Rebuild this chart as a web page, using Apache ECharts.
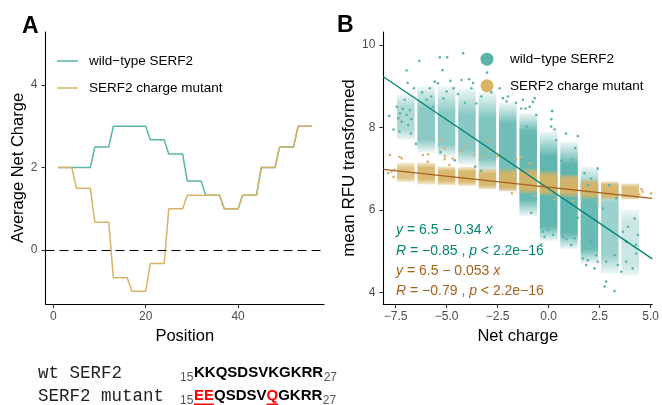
<!DOCTYPE html>
<html><head><meta charset="utf-8">
<script src="https://cdn.jsdelivr.net/npm/echarts@6/dist/echarts.min.js"></script>
<style>html,body{margin:0;padding:0;background:#fff}#c{width:662px;height:405px}</style>
</head><body><div id="c"></div><script>
// ---------- Panel A data ----------
const positions = [1,2,3,4,5,6,7,8,9,10,11,12,13,14,15,16,17,18,19,20,21,22,23,24,25,26,27,28,29,30,31,32,33,34,35,36,37,38,39,40,41,42,43,44,45,46,47,48,49,50,51,52,53,54,55,56];
const wtNetCharge = [2,2,2,2,2,2,2,2, 2.5,2.5,2.5,2.5, 3,3,3,3,3,3,3,3, 2.67,2.67,2.67,2.67, 2.33,2.33,2.33,2.33, 1.67,1.67,1.67,1.67, 1.33,1.33,1.33,1.33, 1,1,1,1, 1.33,1.33,1.33,1.33, 2,2,2,2, 2.5,2.5,2.5,2.5, 3,3,3,3];
const mutNetCharge = [2,2,2,2, 1.5,1.5,1.5,1.5, 0.67,0.67,0.67,0.67, -0.67,-0.67,-0.67,-0.67, -1,-1,-1,-1, -0.33,-0.33,-0.33,-0.33, 1,1,1,1, 1.33,1.33,1.33,1.33,1.33,1.33,1.33,1.33, 1,1,1,1, 1.33,1.33,1.33,1.33, 2,2,2,2, 2.5,2.5,2.5,2.5, 3,3,3,3];
const ticksAx = [0,20,40];
const ticksAy = [0,2,4];

// ---------- Panel B data ----------
const ticksBx = [-7.5,-5,-2.5,0,2.5,5];
const ticksBy = [4,6,8,10];
const wtCharges   = [-7,-6,-5,-4,-3,-2,-1,0,1,2,3,4];
const wtOuterLo   = [7.7,7.4,7.3,7.1,6.9,6.45,5.85,5.25,5.05,4.7,4.45,4.4];
const wtOuterHi   = [8.8,9.0,9.0,8.95,8.85,8.6,8.35,7.9,7.65,7.05,6.65,6.0];
const wtCoreLo    = [7.95,7.7,7.6,7.45,7.25,6.7,6.25,5.6,5.45,5.05,4.9,4.7];
const wtCoreHi    = [8.5,8.45,8.35,8.3,8.2,8.1,7.9,7.3,7.1,6.45,6.15,5.7];
const wtDensity   = [0.5,0.7,0.7,0.72,0.78,0.86,0.93,0.97,0.97,0.9,0.6,0.32];
const mutCharges  = [-7,-6,-5,-4,-3,-2,-1,0,1,2,3,4];
const mutOuterLo  = [6.68,6.62,6.6,6.58,6.5,6.45,6.4,6.35,6.3,6.27,6.25,6.25];
const mutOuterHi  = [7.14,7.14,7.05,7.04,7.0,7.0,7.0,6.94,6.85,6.74,6.69,6.64];
const mutCoreLo   = [6.78,6.75,6.7,6.68,6.6,6.55,6.5,6.45,6.42,6.37,6.33,6.32];
const mutCoreHi   = [7.0,7.02,6.95,6.93,6.88,6.88,6.88,6.82,6.75,6.63,6.6,6.55];
const mutDensity  = [0.8,0.92,0.92,0.94,0.94,0.94,0.94,0.94,0.94,0.94,0.94,0.85];
const wtPoints = [[-7.81,8.28],[-6.96,9.38],[-6.91,9.08],[-6.34,9.61],[-6.6,8.95],[-5.33,9.70],[-4.97,9.70],[-5.2,9.39],[-4.19,9.80],[-4.81,9.13],[-4.27,9.15],[-3.9,9.17],[-3.7,9.08],[-5.58,9.11],[-5.82,8.95],[-3.02,9.33],[-2.24,8.71],[-1.99,8.75],[-2.06,8.63],[-0.93,8.5],[-0.77,8.62],[-1.34,8.46],[0.18,8.4],[0.13,8.02],[-1.09,8.02],[-3.29,8.75],[-3.54,8.58],[-3.78,8.95],[-5.0,8.87],[-4.44,8.81],[-5.98,8.67],[-5.66,8.5],[-5.42,9.07],[-7.45,8.5],[-7.29,8.34],[-7.05,8.67],[-6.8,8.42],[-7.2,8.14],[-6.88,8.06],[-7.37,8.22],[-6.72,8.2],
 [-1.26,8.67],[-0.68,8.71],[-1.13,8.46],[0.16,8.4],[0.13,8.2],[1.43,7.79],[0.37,7.69],[1.11,7.21],[0.62,7.19],[1.03,7.06],
 [-0.85,5.93],[-0.28,5.47],[-0.03,5.51],[-0.2,5.35],[0.21,5.39],[-0.36,5.16],[0.87,5.29],[1.11,5.15],[0.7,5.35],[1.27,5.31],[1.68,4.82],[1.92,4.78],[1.84,4.66],[2.33,4.9],[2.41,4.74],[2.25,4.58],[2.09,5.23],[2.82,4.74],[3.23,4.9],[3.39,4.66],[3.8,4.74],[4.12,4.58],[4.29,4.94],[4.21,5.79],[3.88,5.59],[3.64,5.47],[4.37,5.39],[3.8,5.23],[4.29,5.15],[2.82,4.26],[3.23,4.03],[2.74,4.14],[3.56,4.5],[1.43,5.81],
 [1.76,6.89],[2.09,6.76],[2.41,7.0],[1.92,6.6],[2.98,6.6],[3.31,6.28],[2.66,6.03],
 [-7.3,7.9],[-6.75,7.85],[-7.15,8.45],[-6.95,8.3],[-6.2,8.85],[-5.75,8.75],[-5.15,8.7],[-4.65,8.95],[-4.1,8.6],[-2.8,8.85],[-2.4,8.95],[-1.6,8.6],[-0.6,8.3],[0.3,7.95],[0.85,7.85],[1.3,7.5],[-7.6,7.95],[-6.5,7.6],[-5.3,7.4],[-4.6,7.2],[-3.6,7.05],[-3.3,6.95]];
const mutPoints = [[-7.31,7.29],[-7.2,7.25],[-6.16,7.33],[-5.92,7.17],[-5.22,7.71],[-5.1,7.49],[-5.08,7.3],[-4.21,7.41],[-4.05,7.53],[-4.7,7.25],[-3.64,7.33],[-3.15,7.29],[-2.9,7.45],[-2.5,7.3],[-2.98,7.69],[-4.86,7.09],[-7.78,7.33],[-5.9,7.35],[-5.09,7.23],[-1.58,7.23],[-1.34,7.29],[-0.93,7.13],[-7.86,6.89],[-7.7,6.93],[-7.6,6.8],[-7.55,6.97],[5.02,6.4],[4.61,6.44],[4.45,6.38],[4.55,6.5],[-1.8,6.4],[-0.7,6.35],[0.3,6.25],[1.2,6.22],[2.4,6.2]];
const wtFitLine  = [[-8.10,9.23],[5.08,4.81]];
const mutFitLine = [[-8.10,6.98],[5.08,6.28]];
const fitTexts = [
  {t:'{i|y} = 6.5 − 0.34 {i|x}', c:'wt'},
  {t:'{i|R} = −0.85 , {i|p} < 2.2e−16', c:'wt'},
  {t:'{i|y} = 6.5 − 0.053 {i|x}', c:'mut'},
  {t:'{i|R} = −0.79 , {i|p} < 2.2e−16', c:'mut'}
];
const wtName = 'wild−type SERF2';
const mutName = 'SERF2 charge mutant';

// ---------- styles ----------
const FONT = 'Liberation Sans, Arial, Helvetica, sans-serif';
const MONO = 'Liberation Mono, Courier New, monospace';
const TEAL = '#5AB4AC', GOLD = '#D8B365', TEAL_D = '#018571', BROWN = '#A6611A';
const TEAL_RGB = '90,180,172', GOLD_RGB = '216,179,101';
const HALF = 0.43;

function axisBase(extra) {
  return Object.assign({
    type:'value',
    axisLine:{show:true, onZero:false, lineStyle:{color:'#000', width:1.1}},
    splitLine:{show:false},
    nameLocation:'middle',
    nameTextStyle:{color:'#000', fontSize:16.5, fontFamily:FONT}
  }, extra);
}
const tick = vals => ({show:true, length:4, lineStyle:{color:'#333', width:1.1}, customValues:vals});
const lab = (vals, margin, fmt) => ({color:'#4d4d4d', fontSize:12, fontFamily:FONT, margin:margin, customValues:vals, formatter:fmt});
const fmtB = v => v.toFixed(1).replace('-', '−');

function band(charges, oLo, oHi, cLo, cHi, dens, rgb, edge) {
  return {
    type:'custom', xAxisIndex:1, yAxisIndex:1, silent:true, clip:true,
    encode:{x:0, y:[1,2]},
    data: charges.map((c,i)=>[c, oLo[i], oHi[i], cLo[i], cHi[i], dens[i]]),
    renderItem:(params, api)=>{
      const c = api.value(0), d = api.value(5);
      const p1 = api.coord([c-HALF, api.value(2)]);
      const p2 = api.coord([c+HALF, api.value(1)]);
      const yCH = api.coord([c, api.value(4)])[1];
      const yCL = api.coord([c, api.value(3)])[1];
      const H = p2[1]-p1[1];
      const s1 = Math.max(0, Math.min(1, (yCH-p1[1])/H));
      const s2 = Math.max(s1, Math.min(1, (yCL-p1[1])/H));
      const fill = new echarts.graphic.LinearGradient(0,0,0,1,[
        {offset:0, color:'rgba('+rgb+','+edge+')'},
        {offset:s1, color:'rgba('+rgb+','+d+')'},
        {offset:s2, color:'rgba('+rgb+','+d+')'},
        {offset:1, color:'rgba('+rgb+','+edge+')'}]);
      return {type:'rect', shape:{x:p1[0], y:p1[1], width:p2[0]-p1[0], height:H}, style:{fill:fill}};
    }
  };
}

// ---------- graphics: labels, annotations, sequences ----------
const ctx = document.createElement('canvas').getContext('2d');
function tw(text, font){ ctx.font = font; return ctx.measureText(text).width; }
const graphics = [];
graphics.push({type:'text', left:22, top:15, style:{text:'A', font:'bold 23px '+FONT, fill:'#000'}});
graphics.push({type:'text', left:337, top:14, style:{text:'B', font:'bold 23px '+FONT, fill:'#000'}});
fitTexts.forEach((f,i)=>{
  const col = f.c==='wt' ? TEAL_D : BROWN;
  graphics.push({type:'text', x:396, y:230.5 + i*20.3, style:{
    text:f.t, fill:col, fontSize:14, fontFamily:FONT, verticalAlign:'middle', align:'left',
    rich:{i:{fontStyle:'italic', fontSize:14, fontFamily:FONT, fill:col}}
  }});
});
const monoFont = '17.5px ' + MONO;
const seqFont = 'bold 15px ' + FONT;
const subFont = '12px ' + FONT;
function seqLine(label, baseline, segs) {
  graphics.push({type:'text', x:38, y:baseline - 0.27*17.5, style:{text:label, font:monoFont, fill:'#222', verticalAlign:'middle'}});
  graphics.push({type:'text', x:180, y:baseline + 3.5 - 0.35*12, style:{text:'15', font:subFont, fill:'#555', verticalAlign:'middle'}});
  let x = 194;
  segs.forEach(s=>{
    const w = tw(s[0], seqFont);
    graphics.push({type:'text', x:x, y:baseline - 0.35*15, style:{text:s[0], font:seqFont, fill:s[1], verticalAlign:'middle'}});
    if (s[2]) graphics.push({type:'line', shape:{x1:x, y1:baseline+3.3, x2:x+w, y2:baseline+3.3}, style:{stroke:s[1], lineWidth:1.6}});
    x += w;
  });
  graphics.push({type:'text', x:x+0.5, y:baseline + 3.5 - 0.35*12, style:{text:'27', font:subFont, fill:'#555', verticalAlign:'middle'}});
}
seqLine('wt SERF2', 378, [['KKQSDSVKGKRR','#000',false]]);
seqLine('SERF2 mutant', 401, [['EE','#ff0000',true],['QSDSV','#000',false],['Q','#ff0000',true],['GKRR','#000',false]]);

const legText = {fontSize:13.5, color:'#000', fontFamily:FONT};
const option = {
  animation:false,
  textStyle:{fontFamily:FONT},
  grid:[{left:45.5, top:32, width:278.5, height:272}, {left:383.3, top:32, width:270, height:272}],
  xAxis:[
    axisBase({gridIndex:0, min:-1.69, max:58.6, name:'Position', nameGap:24, axisTick:tick(ticksAx), axisLabel:lab(ticksAx,7)}),
    axisBase({gridIndex:1, min:-8.10, max:5.08, name:'Net charge', nameGap:24, axisTick:tick(ticksBx), axisLabel:lab(ticksBx,7,fmtB)})
  ],
  yAxis:[
    axisBase({gridIndex:0, min:-1.309, max:5.285, name:'Average Net Charge', nameGap:18.5, axisTick:tick(ticksAy), axisLabel:lab(ticksAy,8)}),
    axisBase({gridIndex:1, min:3.716, max:10.315, name:'mean RFU transformed', nameGap:25.5,
      nameTextStyle:{color:'#000', fontSize:17, fontFamily:FONT}, axisTick:tick(ticksBy), axisLabel:lab(ticksBy,8)})
  ],
  legend:[
    {data:['A: '+wtName], formatter:n=>n.slice(3), icon:'rect', left:57, top:54, padding:0, itemWidth:21, itemHeight:1.5, selectedMode:false,
     textStyle:Object.assign({padding:[0,0,0,6]}, legText)},
    {data:['A: '+mutName], formatter:n=>n.slice(3), icon:'rect', left:57, top:81, padding:0, itemWidth:21, itemHeight:1.5, selectedMode:false,
     textStyle:Object.assign({padding:[0,0,0,6]}, legText)},
    {data:[wtName], icon:'circle', left:480.5, top:52.2, padding:0, itemWidth:36, itemHeight:13, selectedMode:false, textStyle:legText},
    {data:[mutName], icon:'circle', left:480.5, top:78.8, padding:0, itemWidth:36, itemHeight:13, selectedMode:false, textStyle:legText}
  ],
  graphic: graphics,
  series:[
    {name:'A: '+wtName, type:'line', xAxisIndex:0, yAxisIndex:0, symbol:'none',
     data: positions.map((p,i)=>[p, wtNetCharge[i]]),
     lineStyle:{color:TEAL, width:1.5}, itemStyle:{color:TEAL},
     markLine:{silent:true, symbol:['none','none'], label:{show:false},
       lineStyle:{color:'#000', type:[9,5], width:1.1}, data:[{yAxis:0}]}},
    {name:'A: '+mutName, type:'line', xAxisIndex:0, yAxisIndex:0, symbol:'none',
     data: positions.map((p,i)=>[p, mutNetCharge[i]]),
     lineStyle:{color:GOLD, width:1.5}, itemStyle:{color:GOLD}},
    band(wtCharges, wtOuterLo, wtOuterHi, wtCoreLo, wtCoreHi, wtDensity, TEAL_RGB, 0.1),
    {name:wtName, type:'scatter', xAxisIndex:1, yAxisIndex:1, symbolSize:2.6, data:wtPoints, itemStyle:{color:TEAL, opacity:1}, silent:true},
    band(mutCharges, mutOuterLo, mutOuterHi, mutCoreLo, mutCoreHi, mutDensity, GOLD_RGB, 0.3),
    {name:mutName, type:'scatter', xAxisIndex:1, yAxisIndex:1, symbolSize:2.6, data:mutPoints, itemStyle:{color:GOLD, opacity:1}, silent:true},
    {type:'line', xAxisIndex:1, yAxisIndex:1, symbol:'none', data:wtFitLine, lineStyle:{color:TEAL_D, width:1.3}, silent:true},
    {type:'line', xAxisIndex:1, yAxisIndex:1, symbol:'none', data:mutFitLine, lineStyle:{color:BROWN, width:1.3}, silent:true}
  ]
};
const chart = echarts.init(document.getElementById('c'), null, {renderer:'canvas'});
chart.setOption(option);
</script></body></html>
